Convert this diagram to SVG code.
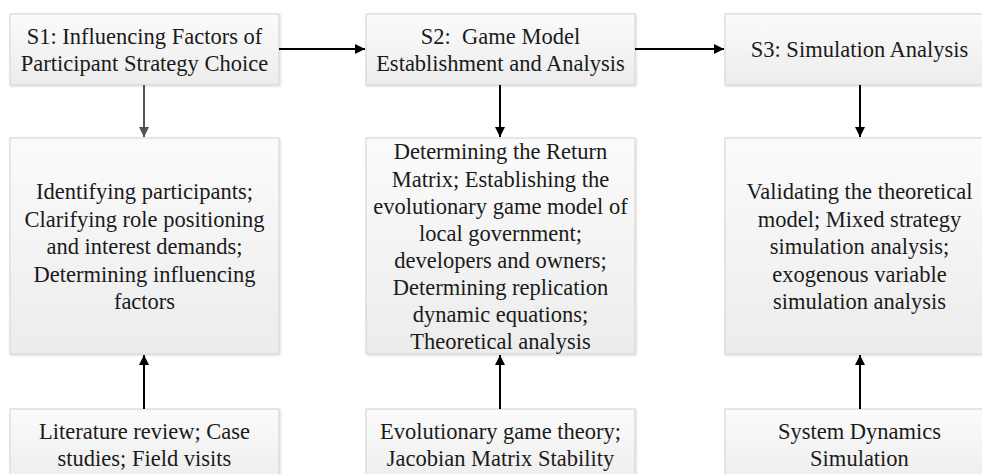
<svg xmlns="http://www.w3.org/2000/svg" width="982" height="474" viewBox="0 0 982 474" font-family="Liberation Serif, DejaVu Serif, serif">
<defs>
<linearGradient id="g" x1="0" y1="0" x2="0" y2="1">
<stop offset="0" stop-color="#fbfbfb"/>
<stop offset="1" stop-color="#ececec"/>
</linearGradient>
<filter id="sh" x="-5%" y="-5%" width="110%" height="110%">
<feDropShadow dx="1" dy="1" stdDeviation="0.8" flood-color="#000" flood-opacity="0.15"/>
</filter>
<marker id="ah" viewBox="0 0 10 10" refX="10" refY="5" markerWidth="10" markerHeight="10" markerUnits="userSpaceOnUse" orient="auto">
<path d="M0,0 L10,5 L0,10 z" fill="#000"/>
</marker>
<marker id="ahg" viewBox="0 0 10 10" refX="10" refY="5" markerWidth="10" markerHeight="10" markerUnits="userSpaceOnUse" orient="auto">
<path d="M0,0 L10,5 L0,10 z" fill="#555"/>
</marker>
</defs>
<style>
.box{fill:url(#g);stroke:#d2d2d2;stroke-width:1;filter:url(#sh)}
text{font-size:22.5px;fill:#1a1a1a;text-anchor:middle}
.c{stroke:#000;stroke-width:2;fill:none;marker-end:url(#ah)}
.cg{stroke:#555;stroke-width:2;fill:none;marker-end:url(#ahg)}
</style>
<rect width="982" height="474" fill="#fff"/>

<g id="s1" font-family="Liberation Serif">
<rect class="box" x="10" y="14" width="269" height="71"/>
<text x="144.5" y="44" font-family="Liberation Serif">S1: Influencing Factors of</text>
<text x="144.5" y="71" font-family="Liberation Serif">Participant Strategy Choice</text>
</g>
<g id="s2" font-family="Liberation Serif">
<rect class="box" x="366" y="14" width="269" height="71"/>
<text x="500.5" y="44" xml:space="preserve">S2:  Game Model</text>
<text x="500.5" y="71">Establishment and Analysis</text>
</g>
<g id="s3" font-family="Liberation Serif">
<rect class="box" x="725" y="14" width="269" height="71"/>
<text x="859.5" y="57">S3: Simulation Analysis</text>
</g>

<g id="m1" font-family="Liberation Serif">
<rect class="box" x="10" y="138" width="269" height="216"/>
<text x="144.5" y="199">Identifying participants;</text>
<text x="144.5" y="226.5">Clarifying role positioning</text>
<text x="144.5" y="254">and interest demands;</text>
<text x="144.5" y="281.5">Determining influencing</text>
<text x="144.5" y="309">factors</text>
</g>
<g id="m2" font-family="Liberation Serif">
<rect class="box" x="366" y="138" width="269" height="216"/>
<text x="500.5" y="159">Determining the Return</text>
<text x="500.5" y="186.5">Matrix; Establishing the</text>
<text x="500.5" y="214">evolutionary game model of</text>
<text x="500.5" y="241">local government;</text>
<text x="500.5" y="268">developers and owners;</text>
<text x="500.5" y="295">Determining replication</text>
<text x="500.5" y="322">dynamic equations;</text>
<text x="500.5" y="349">Theoretical analysis</text>
</g>
<g id="m3" font-family="Liberation Serif">
<rect class="box" x="725" y="138" width="269" height="216"/>
<text x="859.5" y="199">Validating the theoretical</text>
<text x="859.5" y="226.5">model; Mixed strategy</text>
<text x="859.5" y="254">simulation analysis;</text>
<text x="859.5" y="281.5">exogenous variable</text>
<text x="859.5" y="309">simulation analysis</text>
</g>

<g id="b1" font-family="Liberation Serif">
<rect class="box" x="10" y="409" width="269" height="80"/>
<text x="144.5" y="439">Literature review; Case</text>
<text x="144.5" y="466">studies; Field visits</text>
</g>
<g id="b2" font-family="Liberation Serif">
<rect class="box" x="366" y="409" width="269" height="80"/>
<text x="500.5" y="439">Evolutionary game theory;</text>
<text x="500.5" y="466">Jacobian Matrix Stability</text>
</g>
<g id="b3" font-family="Liberation Serif">
<rect class="box" x="725" y="409" width="269" height="80"/>
<text x="859.5" y="439">System Dynamics</text>
<text x="859.5" y="466">Simulation</text>
</g>

<g id="connectors">
<path class="c" d="M279,49 H365"/>
<path class="c" d="M635,49 H724"/>
<path class="cg" d="M144,85 V137"/>
<path class="c" d="M500,85 V137"/>
<path class="c" d="M860,85 V137"/>
<path class="c" d="M144,409 V355"/>
<path class="c" d="M500,409 V355"/>
<path class="c" d="M860,409 V355"/>
</g>
</svg>
